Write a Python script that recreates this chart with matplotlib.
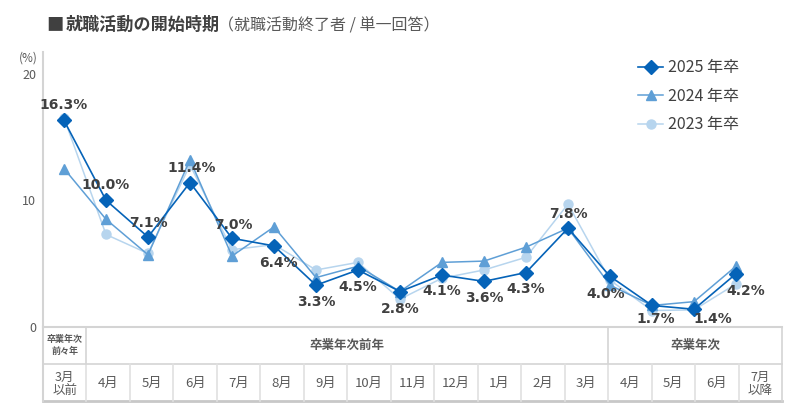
import numpy as np
import matplotlib
matplotlib.use("Agg")
import matplotlib.pyplot as plt

plt.rcParams['font.family'] = ['Noto Sans CJK JP', 'DejaVu Sans']

months = ["3月\n以前", "4月", "5月", "6月", "7月", "8月", "9月", "10月", "11月",
          "12月", "1月", "2月", "3月", "4月", "5月", "6月", "7月\n以降"]
groups = ["卒業年次\n前々年", "卒業年次前年", "卒業年次"]
group_spans = [1, 12, 4]

y2025 = [16.3, 10.0, 7.1, 11.4, 7.0, 6.4, 3.3, 4.5, 2.8, 4.1, 3.6, 4.3, 7.8, 4.0, 1.7, 1.4, 4.2]
y2024 = [12.5, 8.5, 5.7, 13.2, 5.6, 7.9, 3.9, 4.8, 2.8, 5.1, 5.2, 6.3, 7.8, 3.3, 1.7, 2.0, 4.8]
y2023 = [16.5, 7.3, 5.8, 12.8, 6.1, 6.5, 4.5, 5.1, 2.2, 3.85, 4.5, 5.5, 9.7, 3.7, 1.3, 1.35, 3.4]

# label placement for 2025 values (offset in pixels, + is up)
label_dy = [15, 15, 14, 15, 13, -17, -17, -17, -17, -16, -17, -16, 14, -18, -14, -10, -17]
label_dx = [0, 0, 0, 2, 1, 4, 0, 0, 0, 0, 0, 0, 0, -4, 4, 19, 10]

c25 = "#0563b8"
c24 = "#5f9fd6"
c23 = "#b7d5ee"
txt = "#404040"
grid_c = "#d4d4d4"

W, H = 800, 415
fig = plt.figure(figsize=(W / 100, H / 100), dpi=100)

ax = fig.add_axes([43 / W, (H - 327) / H, (757 - 43) / W, (327 - 52) / H])
x = np.arange(len(months))
ax.plot(x, y2023, color=c23, marker="o", ms=6.5, lw=1.1, label="2023 年卒", zorder=2)
ax.plot(x, y2024, color=c24, marker="^", ms=7.5, lw=1.1, label="2024 年卒", zorder=3)
ax.plot(x, y2025, color=c25, marker="D", ms=7.5, lw=1.2, label="2025 年卒", zorder=4)

for i, v in enumerate(y2025):
    ax.annotate(f"{v:.1f}%", (x[i], v), xytext=(label_dx[i] * 0.72, label_dy[i] * 0.72),
                textcoords="offset points", ha="center", va="center",
                fontsize=10, fontweight="bold", color=txt,
                family="DejaVu Sans", zorder=5)

ax.set_xlim(-0.5, len(months) - 0.5)
ax.set_ylim(0, 21.7)
ax.set_yticks([0, 10, 20])
ax.tick_params(axis="y", length=0, labelsize=9, labelcolor="#595959", pad=5)
ax.set_xticks([])
for s in ["top", "right", "bottom"]:
    ax.spines[s].set_visible(False)
ax.spines["left"].set_color(grid_c)
ax.spines["left"].set_linewidth(1.5)
ax.patch.set_alpha(0)

h, l = ax.get_legend_handles_labels()
leg = ax.legend(h[::-1], l[::-1], loc="upper left", bbox_to_anchor=(0.813, 1.025),
                frameon=False, fontsize=11.5, handlelength=1.6, labelspacing=0.72,
                handletextpad=0.3, labelcolor=txt)

# overlay for title and table
ov = fig.add_axes([0, 0, 1, 1], zorder=-1)
ov.set_xlim(0, W)
ov.set_ylim(H, 0)
ov.axis("off")

ov.text(46, 25, "■", fontsize=12.5, color=txt, va="center", ha="left")
ov.text(66, 25, "就職活動の開始時期", fontsize=12.3, fontweight="bold", color=txt,
        va="center", ha="left")
ov.text(218, 26, "（就職活動終了者 / 単一回答）", fontsize=11.5, color="#595959",
        va="center", ha="left")
ov.text(38, 58, "(%)", fontsize=8.5, color="#595959", va="center", ha="right")

edges = np.linspace(43, 782, len(months) + 1)
top, mid, bot = 327, 364, 401
ov.plot([43, 782], [top, top], color=grid_c, lw=1.5)
ov.plot([43, 782], [mid, mid], color=grid_c, lw=1.2)
ov.plot([43, 782], [bot, bot], color="#c8c8c8", lw=2)
ov.plot([43, 43], [top, bot], color=grid_c, lw=1.5)
ov.plot([782, 782], [top, bot], color=grid_c, lw=1.2)
for e in edges[1:-1]:
    ov.plot([e, e], [mid, bot], color="#e0e0e0", lw=1.2)

k = 0
for g, n in zip(groups, group_spans):
    a, b = edges[k], edges[k + n]
    if k > 0:
        ov.plot([a, a], [top, mid], color=grid_c, lw=1.2)
    small = "\n" in g
    ov.text((a + b) / 2, (top + mid) / 2, g, ha="center", va="center",
            fontsize=6.5 if small else 9, fontweight="bold", color="#595959",
            linespacing=1.3)
    k += n

for i, m in enumerate(months):
    ov.text((edges[i] + edges[i + 1]) / 2, (mid + bot) / 2 + 1, m, ha="center",
            va="center", fontsize=9.5 if "\n" not in m else 9, color="#595959",
            linespacing=1.0)

fig.savefig("out.png", dpi=100)
